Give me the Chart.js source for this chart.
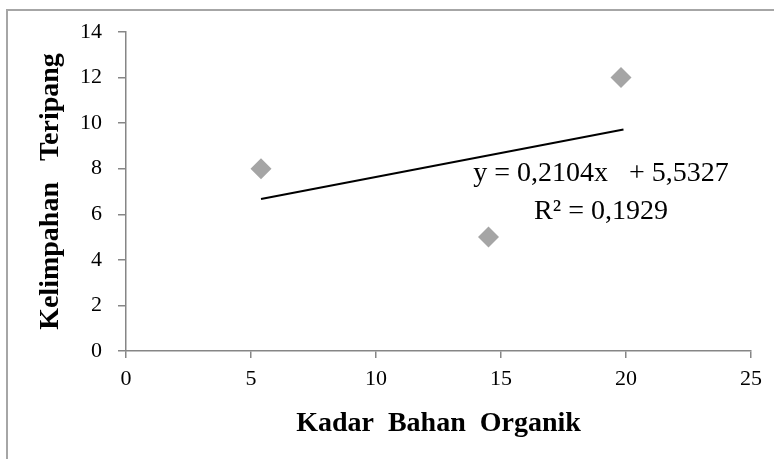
<!DOCTYPE html>
<html>
<head>
<meta charset="utf-8">
<script src="https://cdn.jsdelivr.net/npm/chart.js@4/dist/chart.umd.min.js"></script>
<style>
  html, body { margin: 0; padding: 0; background: #fff; overflow: hidden; }
  #wrap { position: relative; width: 774px; height: 459px; overflow: hidden; }
  #frame { position: absolute; left: 6px; top: 9px; width: 800px; height: 500px;
           border-left: 2px solid #a6a6a6; border-top: 2px solid #a6a6a6; }
  canvas { position: absolute; left: 0; top: 0; }
</style>
</head>
<body>
<div id="wrap">
  <div id="frame"></div>
  <canvas id="chart" width="774" height="459"></canvas>
</div>
<script>
// data
const bahanOrganik = [5.4, 14.5, 19.8];
const kelimpahan = [8, 5, 12];
const trendX = [5.4, 19.9];
const trendY = [6.67, 9.72];
const equationLines = ['y = 0,2104x   + 5,5327', 'R² = 0,1929'];

const points = bahanOrganik.map((x, i) => ({ x: x, y: kelimpahan[i] }));
const trend = trendX.map((x, i) => ({ x: x, y: trendY[i] }));

// draws the trendline equation text next to the line
const equationLabel = {
    id: 'equationLabel',
    afterDraw(chart) {
        const { ctx, scales } = chart;
        const cx = scales.x.getPixelForValue(19.0);
        const y1 = scales.y.getPixelForValue(7.78);
        ctx.save();
        ctx.fillStyle = '#000';
        ctx.font = '28px "Liberation Serif", serif';
        ctx.textAlign = 'center';
        ctx.textBaseline = 'middle';
        ctx.fillText(equationLines[0], cx, y1);
        ctx.fillText(equationLines[1], cx, y1 + 38);
        ctx.restore();
    }
};

const axisGray = '#868686';

new Chart(document.getElementById('chart'), {
    type: 'scatter',
    data: {
        datasets: [
            {
                label: 'Kelimpahan',
                data: points,
                pointStyle: 'rectRot',
                pointRadius: 10.5,
                pointHoverRadius: 10.5,
                backgroundColor: '#a5a5a5',
                borderColor: '#a5a5a5',
                borderWidth: 0,
                order: 1
            },
            {
                label: 'Linear',
                data: trend,
                type: 'line',
                showLine: true,
                borderColor: '#000',
                borderWidth: 2,
                pointRadius: 0,
                fill: false,
                order: 2
            }
        ]
    },
    options: {
        responsive: false,
        animation: false,
        layout: { padding: { left: 0, right: 23, top: 32, bottom: 0 } },
        plugins: {
            legend: { display: false },
            tooltip: { enabled: false }
        },
        scales: {
            x: {
                type: 'linear',
                min: 0,
                max: 25,
                ticks: { stepSize: 5, color: '#000', padding: 8,
                         font: { family: '"Liberation Serif", serif', size: 22 } },
                grid: { display: true, drawOnChartArea: false, drawTicks: true,
                        tickLength: 7, color: axisGray, lineWidth: 1.5 },
                border: { display: true, color: axisGray, width: 1.5 },
                title: { display: true, text: 'Kadar  Bahan  Organik', color: '#000',
                         padding: { top: 0, bottom: 18 },
                         font: { family: '"Liberation Serif", serif', size: 28, weight: 'bold' } },
                afterFit(scale) { scale.height = 108; }
            },
            y: {
                type: 'linear',
                min: 0,
                max: 14,
                ticks: { stepSize: 2, color: '#000', padding: 16,
                         font: { family: '"Liberation Serif", serif', size: 22 } },
                grid: { display: true, drawOnChartArea: false, drawTicks: true,
                        tickLength: 8, color: axisGray, lineWidth: 1.5 },
                border: { display: true, color: axisGray, width: 1.5 },
                title: { display: true, text: 'Kelimpahan   Teripang', color: '#000',
                         padding: { top: 34, bottom: 0 },
                         font: { family: '"Liberation Serif", serif', size: 28, weight: 'bold' } },
                afterFit(scale) { scale.width = 126; }
            }
        }
    },
    plugins: [equationLabel]
});
</script>
</body>
</html>
